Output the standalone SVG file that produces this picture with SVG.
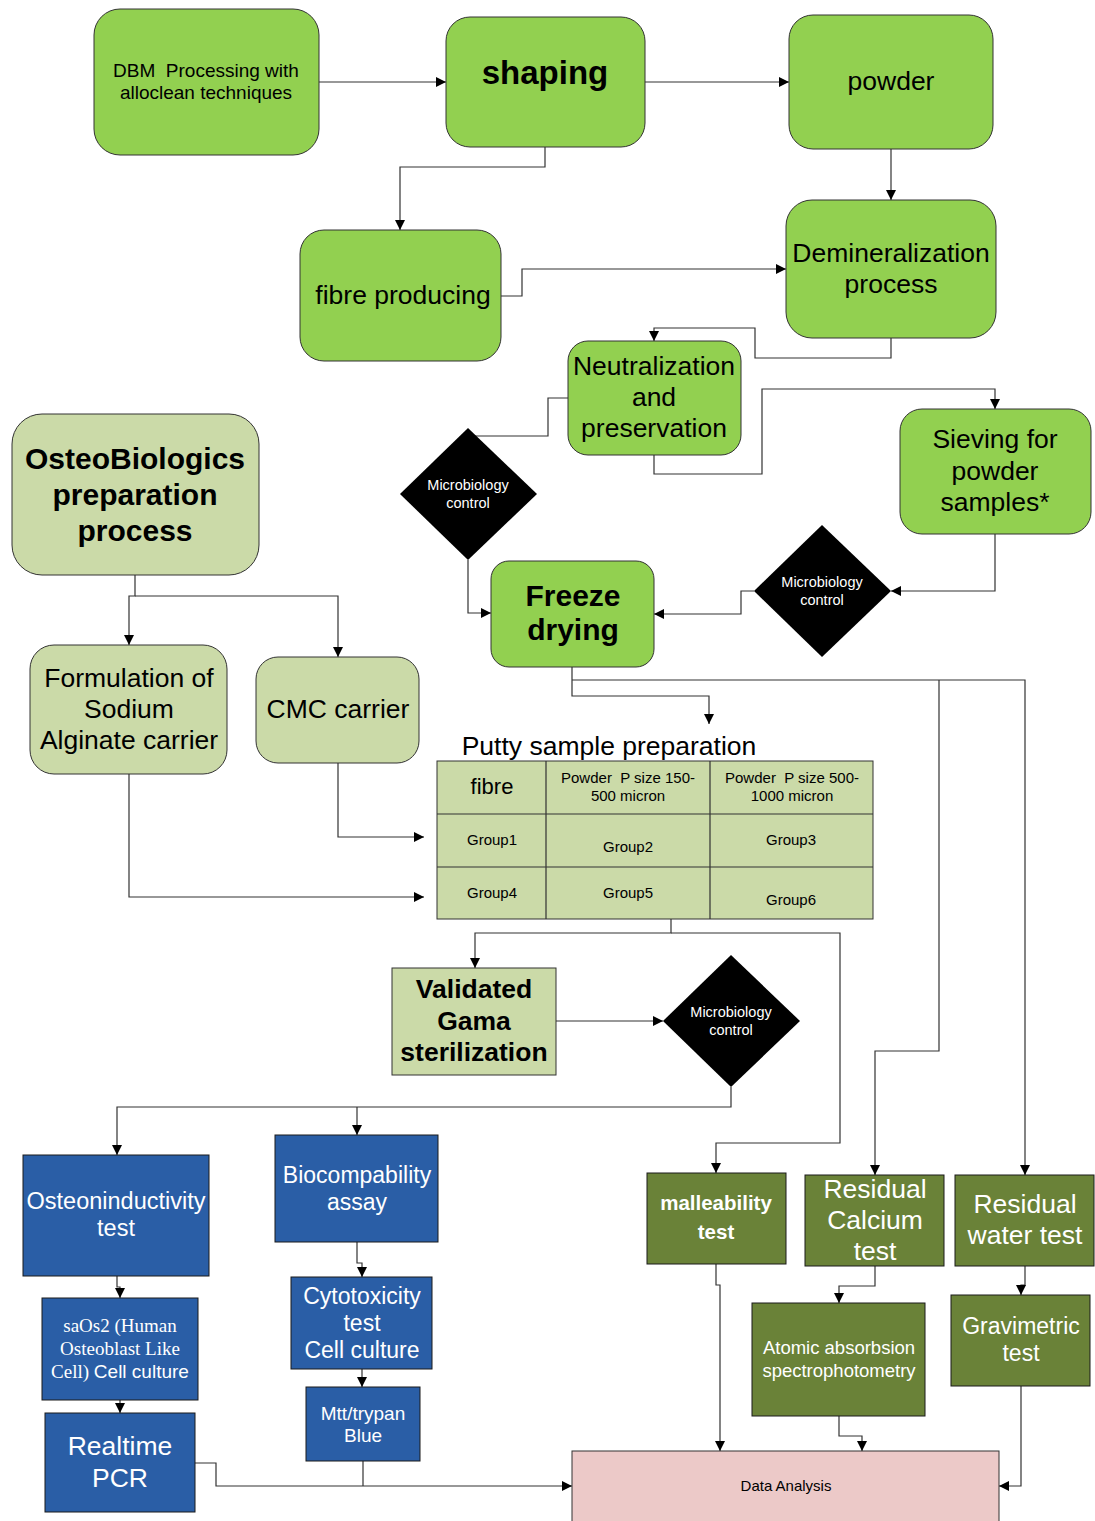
<svg xmlns="http://www.w3.org/2000/svg" width="1095" height="1521" viewBox="0 0 1095 1521">
<style>
text{font-family:"Liberation Sans",Arial,sans-serif;text-anchor:middle;fill:#000;white-space:pre}
.g1{fill:#92d050;stroke:#333;stroke-width:1}
.g2{fill:#cbdaa8;stroke:#333;stroke-width:1}
.bl{fill:#2a5ea6;stroke:#1a1a1a;stroke-width:1}
.ol{fill:#6a8238;stroke:#1a1a1a;stroke-width:1}
.pk{fill:#ecc9c8;stroke:#333;stroke-width:1}
.dm{fill:#000}
.w{fill:#fff}
.b{font-weight:bold}
.s26{font-size:26.5px}
.s23{font-size:23px}
.s15{font-size:15px}
.mc{font-size:14.5px;fill:#fff}
.sf{font-family:"Liberation Serif","Times New Roman",serif}
#connectors path{fill:none;stroke:#333;stroke-width:1.2}
.a{marker-end:url(#arr)}
</style>
<defs>
<marker id="arr" markerUnits="userSpaceOnUse" markerWidth="11" markerHeight="10" refX="10" refY="5" orient="auto">
<path d="M0,0 L10,5 L0,10 z" fill="#000"/>
</marker>
</defs>
<rect width="1095" height="1521" fill="#fff"/>

<g id="connectors">
<path class="a" d="M319,82 H446"/>
<path class="a" d="M645,82 H789"/>
<path class="a" d="M545,147 V167 H400 V230"/>
<path class="a" d="M891,149 V200"/>
<path class="a" d="M501,296 H522 V269 H786"/>
<path class="a" d="M891,338 V358 H755 V328 H654 V341"/>
<path d="M568,398 H548 V436 H475"/>
<path class="a" d="M468,560 V613 H491"/>
<path class="a" d="M654,455 V474 H762 V389 H995 V409"/>
<path class="a" d="M995,534 V591 H891"/>
<path class="a" d="M754,591 H741 V614 H654"/>
<path class="a" d="M572,667 V696 H709 V724"/>
<path class="a" d="M572,680 H1025 V1175"/>
<path class="a" d="M939,680 V1051 H875 V1175"/>
<path class="a" d="M135,575 V596 H129 V645"/>
<path class="a" d="M135,596 H338 V657"/>
<path class="a" d="M338,763 V837 H424"/>
<path class="a" d="M129,774 V897 H424"/>
<path class="a" d="M671,919 V933 H475 V968"/>
<path class="a" d="M671,933 H840 V1143 H716 V1173"/>
<path class="a" d="M556,1021 H663"/>
<path class="a" d="M731,1087 V1107 H117 V1155"/>
<path class="a" d="M357,1107 V1135"/>
<path class="a" d="M117,1276 V1287 H120 V1298"/>
<path class="a" d="M120,1400 V1413"/>
<path class="a" d="M357,1242 V1263 H362 V1277"/>
<path class="a" d="M362,1369 V1387"/>
<path class="a" d="M195,1463 H216 V1486 H572"/>
<path d="M363,1461 V1486"/>
<path class="a" d="M716,1264 V1285 H720 V1451"/>
<path class="a" d="M875,1266 V1286 H839 V1303"/>
<path class="a" d="M839,1416 V1436 H862 V1451"/>
<path class="a" d="M1025,1266 V1285 H1021 V1295"/>
<path class="a" d="M1021,1386 V1486 H999"/>
</g>

<g id="dbm"><rect class="g1" x="94" y="9" width="225" height="146" rx="26"/>
<text x="206" y="77" font-size="19">DBM  Processing with</text>
<text x="206" y="99" font-size="19">alloclean techniques</text></g>

<g id="shaping"><rect class="g1" x="446" y="17" width="199" height="130" rx="24"/>
<text x="545" y="84" font-size="33" class="b">shaping</text></g>

<g id="powder"><rect class="g1" x="789" y="15" width="204" height="134" rx="24"/>
<text x="891" y="90" class="s26">powder</text></g>

<g id="fibre-producing"><rect class="g1" x="300" y="230" width="201" height="131" rx="24"/>
<text x="403" y="304" class="s26">fibre producing</text></g>

<g id="demineralization"><rect class="g1" x="786" y="200" width="210" height="138" rx="26"/>
<text x="891" y="262" class="s26">Demineralization</text>
<text x="891" y="293" class="s26">process</text></g>

<g id="neutralization"><rect class="g1" x="568" y="341" width="173" height="114" rx="20"/>
<text x="654" y="375" class="s26">Neutralization</text>
<text x="654" y="406" class="s26">and</text>
<text x="654" y="437" class="s26">preservation</text></g>

<g id="sieving"><rect class="g1" x="900" y="409" width="191" height="125" rx="22"/>
<text x="995" y="448" class="s26">Sieving for</text>
<text x="995" y="480" class="s26">powder</text>
<text x="995" y="511" class="s26">samples*</text></g>

<g id="micro1"><polygon class="dm" points="468,428 537,494 468,560 400,494"/>
<text x="468" y="490" class="mc">Microbiology</text>
<text x="468" y="508" class="mc">control</text></g>

<g id="freeze"><rect class="g1" x="491" y="561" width="163" height="106" rx="18"/>
<text x="573" y="606" font-size="30" class="b">Freeze</text>
<text x="573" y="640" font-size="30" class="b">drying</text></g>

<g id="micro2"><polygon class="dm" points="822,525 891,591 822,657 754,591"/>
<text x="822" y="587" class="mc">Microbiology</text>
<text x="822" y="605" class="mc">control</text></g>

<g id="osteobiologics"><rect class="g2" x="12" y="414" width="247" height="161" rx="30"/>
<text x="135" y="469" font-size="30" class="b">OsteoBiologics</text>
<text x="135" y="505" font-size="30" class="b">preparation</text>
<text x="135" y="541" font-size="30" class="b">process</text></g>

<g id="alginate"><rect class="g2" x="30" y="645" width="197" height="129" rx="24"/>
<text x="129" y="687" class="s26">Formulation of</text>
<text x="129" y="718" class="s26">Sodium</text>
<text x="129" y="749" class="s26">Alginate carrier</text></g>

<g id="cmc"><rect class="g2" x="256" y="657" width="163" height="106" rx="22"/>
<text x="338" y="718" class="s26">CMC carrier</text></g>

<g id="putty">
<text x="609" y="755" class="s26">Putty sample preparation</text>
<rect class="g2" x="437" y="761" width="436" height="158" rx="0"/>
<path d="M546,761 V919 M710,761 V919 M437,814 H873 M437,867 H873" stroke="#333" stroke-width="1.2" fill="none"/>
<text x="492" y="794" font-size="22">fibre</text>
<text x="628" y="783" class="s15">Powder  P size 150-</text>
<text x="628" y="801" class="s15">500 micron</text>
<text x="792" y="783" class="s15">Powder  P size 500-</text>
<text x="792" y="801" class="s15">1000 micron</text>
<text x="492" y="845" class="s15">Group1</text>
<text x="628" y="852" class="s15">Group2</text>
<text x="791" y="845" class="s15">Group3</text>
<text x="492" y="898" class="s15">Group4</text>
<text x="628" y="898" class="s15">Group5</text>
<text x="791" y="905" class="s15">Group6</text>
</g>

<g id="gamma"><rect class="g2" x="392" y="968" width="164" height="107"/>
<text x="474" y="998" class="s26 b">Validated</text>
<text x="474" y="1030" class="s26 b">Gama</text>
<text x="474" y="1061" class="s26 b">sterilization</text></g>

<g id="micro3"><polygon class="dm" points="731,955 800,1021 731,1087 663,1021"/>
<text x="731" y="1017" class="mc">Microbiology</text>
<text x="731" y="1035" class="mc">control</text></g>

<g id="osteoinductivity"><rect class="bl" x="23" y="1155" width="186" height="121"/>
<text x="116" y="1209" font-size="23.5" class="w">Osteoninductivity</text>
<text x="116" y="1236" font-size="23.5" class="w">test</text></g>

<g id="biocompatibility"><rect class="bl" x="275" y="1135" width="163" height="107"/>
<text x="357" y="1183" class="s23 w">Biocompability</text>
<text x="357" y="1210" class="s23 w">assay</text></g>

<g id="saos2"><rect class="bl" x="42" y="1298" width="156" height="102"/>
<text x="120" y="1332" font-size="19" class="sf w">saOs2 (Human</text>
<text x="120" y="1355" font-size="19" class="sf w">Osteoblast Like</text>
<text x="120" y="1378" font-size="19" class="w"><tspan class="sf">Cell) </tspan>Cell culture</text></g>

<g id="pcr"><rect class="bl" x="45" y="1413" width="150" height="99"/>
<text x="120" y="1455" class="s26 w">Realtime</text>
<text x="120" y="1487" class="s26 w">PCR</text></g>

<g id="cytotoxicity"><rect class="bl" x="291" y="1277" width="141" height="92"/>
<text x="362" y="1304" class="s23 w">Cytotoxicity</text>
<text x="362" y="1331" class="s23 w">test</text>
<text x="362" y="1358" class="s23 w">Cell culture</text></g>

<g id="mtt"><rect class="bl" x="306" y="1387" width="114" height="74"/>
<text x="363" y="1420" font-size="19" class="w">Mtt/trypan</text>
<text x="363" y="1442" font-size="19" class="w">Blue</text></g>

<g id="malleability"><rect class="ol" x="647" y="1173" width="139" height="91"/>
<text x="716" y="1210" font-size="20.5" class="b w">malleability</text>
<text x="716" y="1239" font-size="20.5" class="b w">test</text></g>

<g id="calcium"><rect class="ol" x="805" y="1175" width="139" height="91"/>
<text x="875" y="1198" class="s26 w">Residual</text>
<text x="875" y="1229" class="s26 w">Calcium</text>
<text x="875" y="1260" class="s26 w">test</text></g>

<g id="water"><rect class="ol" x="955" y="1175" width="139" height="91"/>
<text x="1025" y="1213" class="s26 w">Residual</text>
<text x="1025" y="1244" class="s26 w">water test</text></g>

<g id="atomic"><rect class="ol" x="752" y="1303" width="173" height="113"/>
<text x="839" y="1354" font-size="18.5" class="w">Atomic absorbsion</text>
<text x="839" y="1377" font-size="18.5" class="w">spectrophotometry</text></g>

<g id="gravimetric"><rect class="ol" x="951" y="1295" width="139" height="91"/>
<text x="1021" y="1334" class="s23 w">Gravimetric</text>
<text x="1021" y="1361" class="s23 w">test</text></g>

<g id="data-analysis"><rect class="pk" x="572" y="1451" width="427" height="80"/>
<text x="786" y="1491" class="s15">Data Analysis</text></g>
</svg>
